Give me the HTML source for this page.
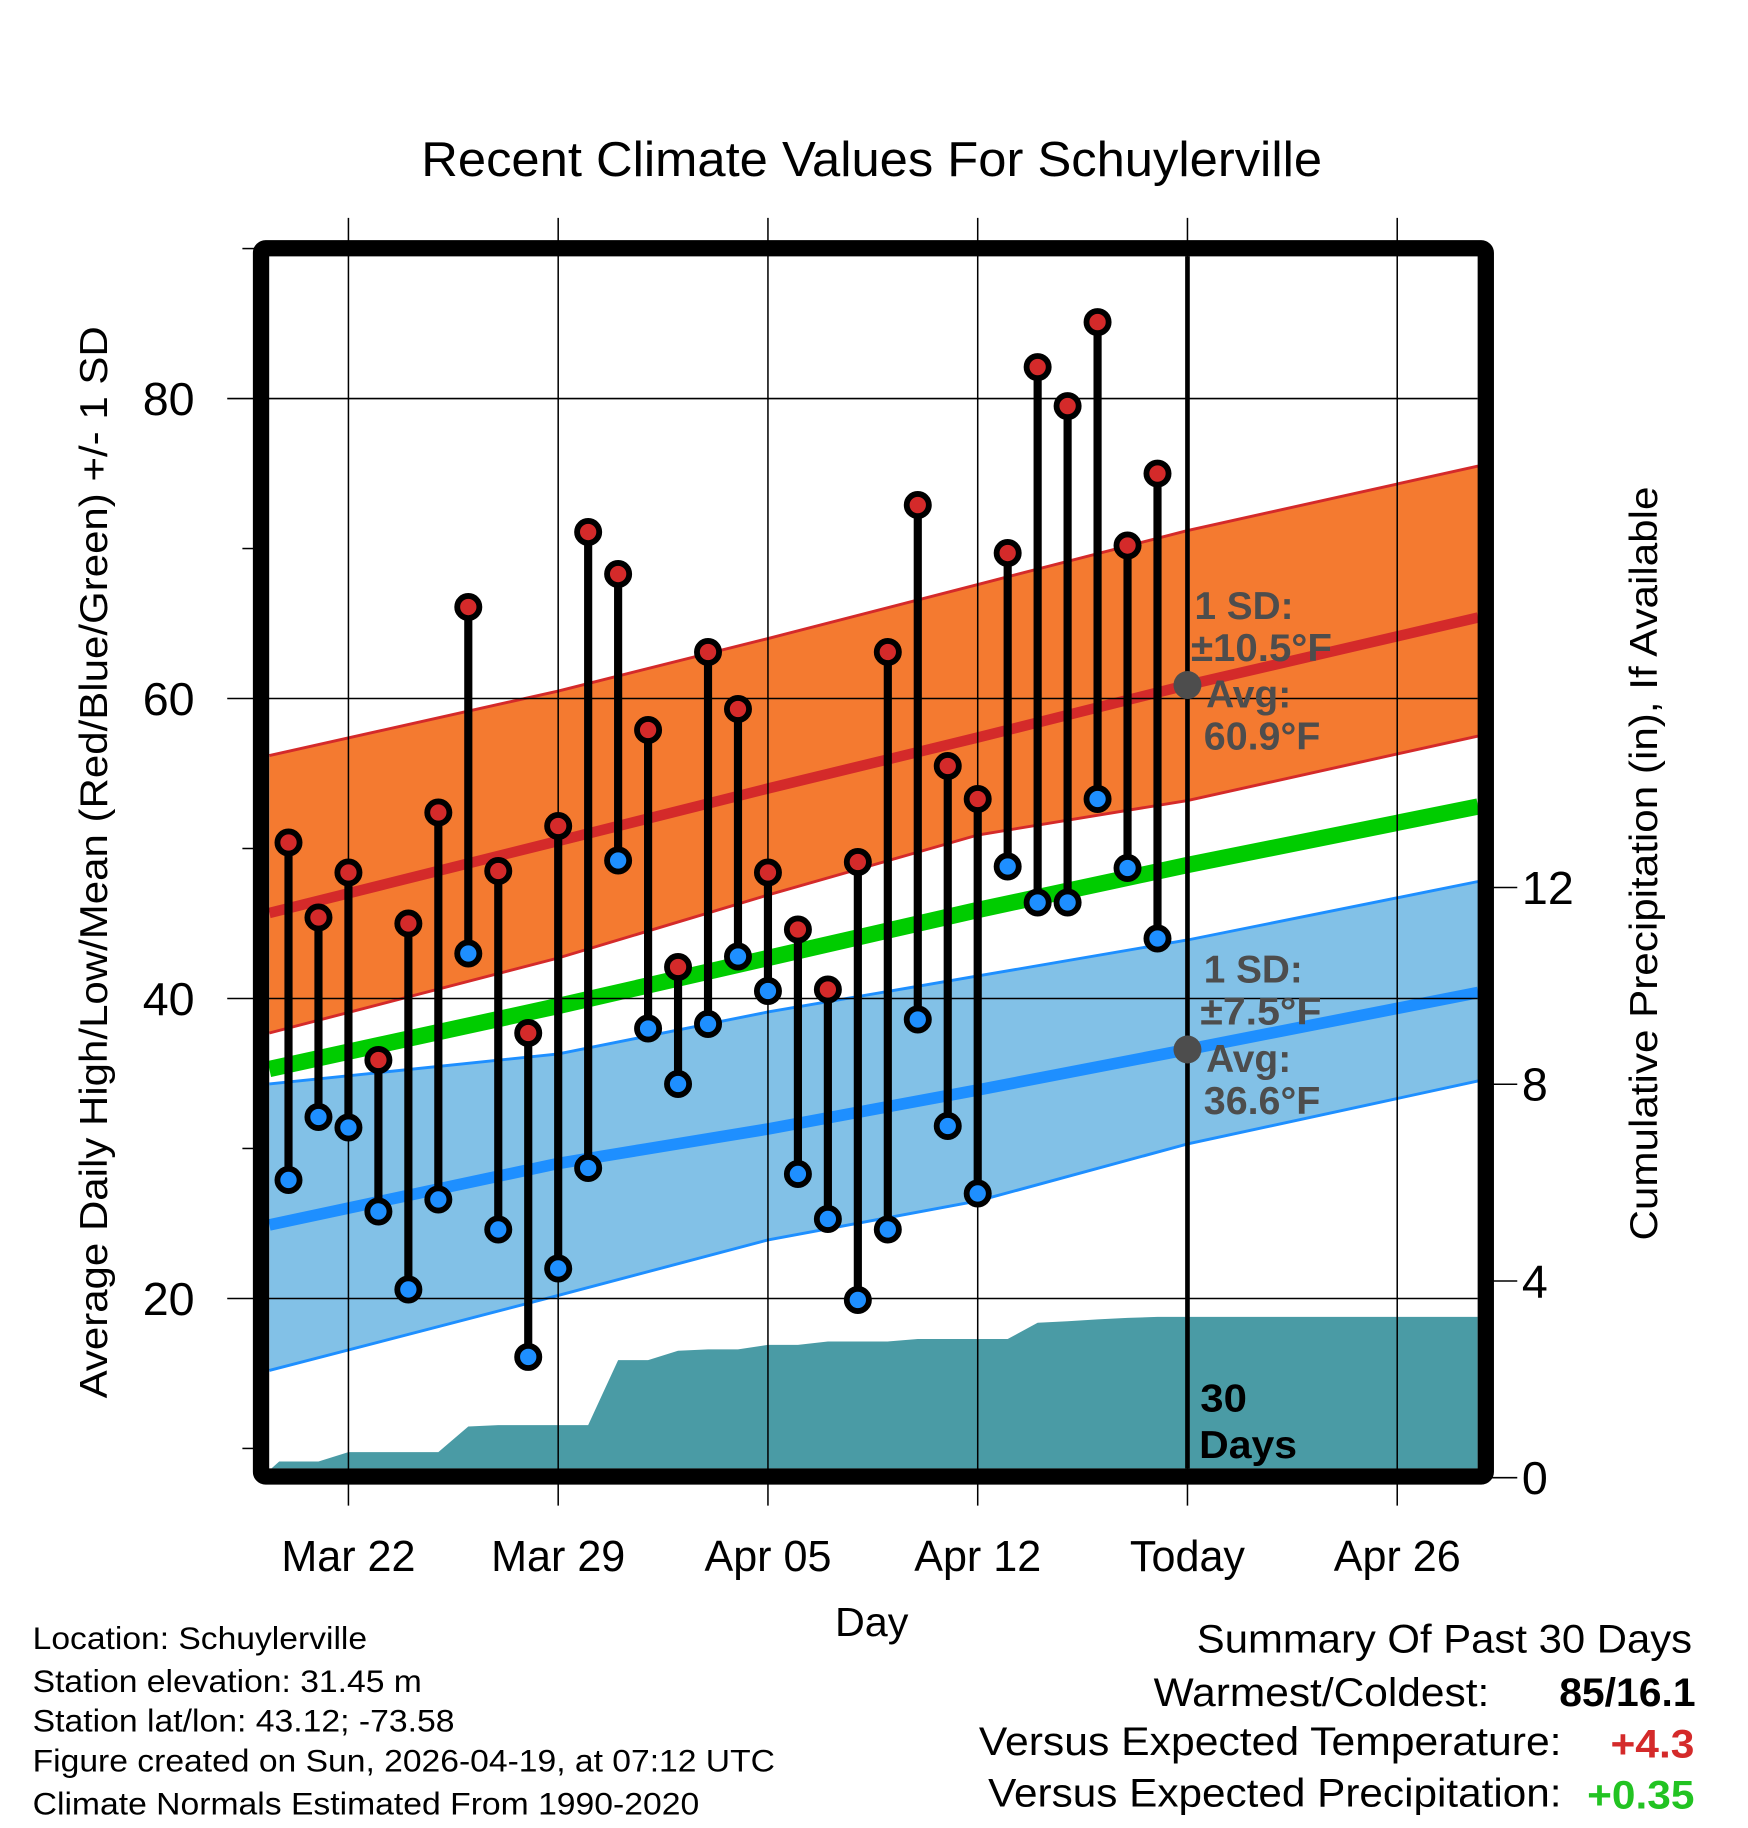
<!DOCTYPE html>
<html><head><meta charset="utf-8"><style>
html,body{margin:0;padding:0;background:#fff;}
svg{display:block;font-family:"Liberation Sans",Arial,sans-serif;}
</style></head><body>
<svg id="chart" width="1748" height="1828" viewBox="0 0 1500 1568.6" preserveAspectRatio="none" xmlns="http://www.w3.org/2000/svg">
<g id="layer-precip"></g>
<g id="layer-bands"></g>
<g id="layer-grid"></g>
<g id="layer-stems"></g>
<g id="layer-anno"></g>
<rect x="224" y="213" width="1051" height="1054" fill="none" stroke="#000" stroke-width="14" rx="4"/>
<g id="layer-axes"></g>
<text x="748" y="151" font-size="42" text-anchor="middle" textLength="773" lengthAdjust="spacingAndGlyphs">Recent Climate Values For Schuylerville</text>
<text transform="translate(92,740) rotate(-90)" font-size="33" text-anchor="middle" textLength="920" lengthAdjust="spacingAndGlyphs">Average Daily High/Low/Mean (Red/Blue/Green) +/- 1 SD</text>
<text transform="translate(1422,741) rotate(-90)" font-size="33" text-anchor="middle" textLength="647" lengthAdjust="spacingAndGlyphs">Cumulative Precipitation (in), If Available</text>
<text x="748" y="1404" font-size="35" text-anchor="middle" textLength="63" lengthAdjust="spacingAndGlyphs">Day</text>
<g font-size="27">
<text x="28" y="1415" textLength="287" lengthAdjust="spacingAndGlyphs">Location: Schuylerville</text>
<text x="28" y="1452" textLength="334" lengthAdjust="spacingAndGlyphs">Station elevation: 31.45 m</text>
<text x="28" y="1486" textLength="362" lengthAdjust="spacingAndGlyphs">Station lat/lon: 43.12; -73.58</text>
<text x="28" y="1520" textLength="637" lengthAdjust="spacingAndGlyphs">Figure created on Sun, 2026-04-19, at 07:12 UTC</text>
<text x="28" y="1557" textLength="572" lengthAdjust="spacingAndGlyphs">Climate Normals Estimated From 1990-2020</text>
</g>
<g font-size="34">
<text x="1027" y="1418" textLength="425" lengthAdjust="spacingAndGlyphs">Summary Of Past 30 Days</text>
<text x="990" y="1464" textLength="288" lengthAdjust="spacingAndGlyphs">Warmest/Coldest:</text>
<text x="1338" y="1464" font-weight="bold" textLength="117" lengthAdjust="spacingAndGlyphs">85/16.1</text>
<text x="840" y="1506" textLength="500" lengthAdjust="spacingAndGlyphs">Versus Expected Temperature:</text>
<text x="1382" y="1508" font-weight="bold" fill="#d42a2a" textLength="72" lengthAdjust="spacingAndGlyphs">+4.3</text>
<text x="848" y="1550" textLength="492" lengthAdjust="spacingAndGlyphs">Versus Expected Precipitation:</text>
<text x="1362" y="1552" font-weight="bold" fill="#22c322" textLength="92" lengthAdjust="spacingAndGlyphs">+0.35</text>
</g>
</svg>
<script>
// day index 0 = Mar 22
const obsDays = [-2,-1,0,1,2,3,4,5,6,7,8,9,10,11,12,13,14,15,16,17,18,19,20,21,22,23,24,25,26,27];
const highs = [50.4,45.4,48.4,35.9,45.0,52.4,66.1,48.5,37.7,51.5,71.1,68.3,57.9,42.1,63.1,59.3,48.4,44.6,40.6,49.1,63.1,72.9,55.5,53.3,69.7,82.1,79.5,85.1,70.2,75.0];
const lows = [27.9,32.1,31.4,25.8,20.6,26.6,43.0,24.6,16.1,22.0,28.7,49.2,38.0,34.3,38.3,42.8,40.5,28.3,25.3,19.9,24.6,38.6,31.5,27.0,48.8,46.4,46.4,53.3,48.7,44.0];
const precip = [0.33,0.33,0.52,0.52,0.52,0.52,1.04,1.07,1.07,1.07,1.07,2.39,2.39,2.58,2.61,2.61,2.70,2.70,2.77,2.77,2.77,2.82,2.82,2.82,2.82,3.15,3.18,3.22,3.25,3.27];
const normDays = [-2.64,7,14,21,28,37.7];
const normHighUpper = [56.2,60.5,64.0,67.6,71.2,75.5];
const normHighMean = [45.7,50.5,54.0,57.4,60.9,65.4];
const normHighLower = [37.7,42.7,46.9,50.9,53.2,57.5];
const normMean = [35.3,39.5,42.7,45.9,48.9,52.8];
const normLowUpper = [34.3,36.3,39.1,41.5,43.9,47.8];
const normLowMean = [24.9,29.0,31.3,33.9,36.6,40.4];
const normLowLower = [15.2,20.2,23.9,26.5,30.3,34.5];
const xTickDays = [0,7,14,21,28,35];
const xTickLabels = ['Mar 22','Mar 29','Apr 05','Apr 12','Today','Apr 26'];
const yTicks = [20,40,60,80];
const yMinor = [10,30,50,70,90];
const pTicks = [0,4,8,12];

const NS='http://www.w3.org/2000/svg';
const X0=231, X1=1268, YT=220, YB=1260;
function xs(d){return 299+d*25.714;}
function ys(t){return 342+(80-t)*12.87;}
function yp(p){return 1268-p*42.2;}
function mk(tag,attrs,parent){const e=document.createElementNS(NS,tag);for(const k in attrs)e.setAttribute(k,attrs[k]);parent.appendChild(e);return e;}
const gP=document.getElementById('layer-precip'),gB=document.getElementById('layer-bands'),gG=document.getElementById('layer-grid'),gS=document.getElementById('layer-stems'),gA=document.getElementById('layer-anno'),gX=document.getElementById('layer-axes');

let pts=[[X0+2,YB],[xs(obsDays[0])-8,yp(precip[0])]];
for(let i=0;i<obsDays.length;i++){pts.push([xs(obsDays[i]),yp(precip[i])]);}
pts.push([X1,yp(precip[precip.length-1])],[X1,YB]);
let pa=mk('polygon',{points:pts.map(p=>p.join(',')).join(' '),fill:'#4a9ba5'},gP);



function line(arr){return normDays.map((d,i)=>xs(d)+','+ys(arr[i])).join(' ');}
function band(up,lo,fill,name){
  const p=normDays.map((d,i)=>xs(d)+','+ys(up[i])).concat(normDays.slice().reverse().map((d,j)=>{const i=normDays.length-1-j;return xs(d)+','+ys(lo[i]);}));
  const e=mk('polygon',{points:p.join(' '),fill:fill},gB);
  
  
}
function pl(arr,color,w,name){
  const e=mk('polyline',{points:line(arr),fill:'none',stroke:color,'stroke-width':w},gB);
  
  
}
band(normHighUpper,normHighLower,'#f47a30','high-sd-band');
pl(normHighUpper,'#d42a2a',2.5,'high-upper-line');
pl(normHighLower,'#d42a2a',2.5,'high-lower-line');
pl(normHighMean,'#d42a2a',9,'normal-high-line');
band(normLowUpper,normLowLower,'#82c1e7','low-sd-band');
pl(normLowUpper,'#1e8fff',2.5,'low-upper-line');
pl(normLowLower,'#1e8fff',2.5,'low-lower-line');
pl(normLowMean,'#1e8fff',10,'normal-low-line');
pl(normMean,'#00cc00',14,'normal-mean-line');

xTickDays.forEach((d,i)=>{
  const e=mk('line',{x1:xs(d),x2:xs(d),y1:187,y2:1292,stroke:'#000','stroke-width':1.3},gG);
  
  
  const t=mk('text',{x:xs(d),y:1348,'font-size':37,'text-anchor':'middle'},gX);
  t.textContent=xTickLabels[i];
  
  
});
yTicks.forEach(v=>{
  const e=mk('line',{x1:195,x2:X1,y1:ys(v),y2:ys(v),stroke:'#000','stroke-width':1.3},gG);
  
  
  const t=mk('text',{x:167,y:ys(v)+14,'font-size':40,'text-anchor':'end'},gX);
  t.textContent=v;
  
  
});
yMinor.forEach(v=>{
  const e=mk('line',{x1:208,x2:220,y1:ys(v),y2:ys(v),stroke:'#000','stroke-width':1.3},gX);
  
  
});
pTicks.forEach(v=>{
  const e=mk('line',{x1:1280,x2:1302,y1:yp(v),y2:yp(v),stroke:'#000','stroke-width':1.3},gX);
  
  
  const t=mk('text',{x:1306,y:yp(v)+14,'font-size':40},gX);
  t.textContent=v;
  
  
});

obsDays.forEach((d,i)=>{
  const x=xs(d);
  const s=mk('line',{x1:x,x2:x,y1:ys(highs[i]),y2:ys(lows[i]),stroke:'#000','stroke-width':7},gS);
  
  
});
obsDays.forEach((d,i)=>{
  const x=xs(d);
  const h=mk('circle',{cx:x,cy:ys(highs[i]),r:9.5,fill:'#d42a2a',stroke:'#000','stroke-width':5},gS);
  
  
  const l=mk('circle',{cx:x,cy:ys(lows[i]),r:9.5,fill:'#1e8fff',stroke:'#000','stroke-width':5},gS);
  
  
});

const todayD=28;
const tl=mk('line',{x1:xs(todayD),x2:xs(todayD),y1:YT,y2:YB,stroke:'#000','stroke-width':4},gA);


const d1=mk('circle',{cx:xs(todayD),cy:ys(normHighMean[4]),r:12,fill:'#4d4d4d'},gA);


const d2=mk('circle',{cx:xs(todayD),cy:ys(normLowMean[4]),r:12,fill:'#4d4d4d'},gA);


const annos=[['1 SD:',1025,531,85],['±10.5°F',1022,567,121],['Avg:',1035,607,73],['60.9°F',1033,643,100],['1 SD:',1033,843,85],['±7.5°F',1030,879,104],['Avg:',1035,920,73],['36.6°F',1033,956,100]];
annos.forEach(a=>{
  const t=mk('text',{x:a[1],y:a[2],'font-size':33,'font-weight':'bold',fill:'#4d4d4d',textLength:a[3],lengthAdjust:'spacingAndGlyphs'},gA);
  t.textContent=a[0];
  
  
});
[['30',1030,1211,40],['Days',1029,1251,84]].forEach(a=>{
  const t=mk('text',{x:a[1],y:a[2],'font-size':33,'font-weight':'bold',fill:'#000',textLength:a[3],lengthAdjust:'spacingAndGlyphs'},gA);
  t.textContent=a[0];
  
  
});
</script>
</body></html>
